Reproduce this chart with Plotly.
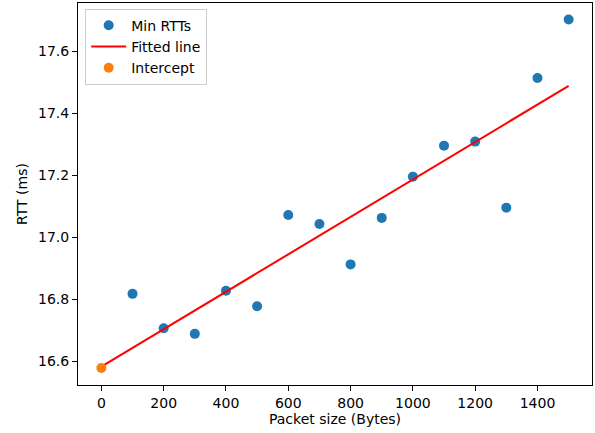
import plotly.graph_objects as go

packet_sizes = [100, 200, 300, 400, 500, 600, 700, 800, 900, 1000, 1100, 1200, 1300, 1400, 1500]
min_rtts = [16.818, 16.707, 16.689, 16.828, 16.778, 17.072, 17.043, 16.913, 17.063,
            17.196, 17.296, 17.309, 17.096, 17.514, 17.703]
fit_x = [0, 1500]
fit_y = [16.583, 17.489]
intercept_x = [0]
intercept_y = [16.579]

font = dict(family="DejaVu Sans", size=14, color="black")

fig = go.Figure()
fig.add_trace(go.Scatter(x=packet_sizes, y=min_rtts, mode="markers", name="Min RTTs",
                         marker=dict(color="#1f77b4", size=10)))
fig.add_trace(go.Scatter(x=fit_x, y=fit_y, mode="lines", name="Fitted line",
                         line=dict(color="red", width=2)))
fig.add_trace(go.Scatter(x=intercept_x, y=intercept_y, mode="markers", name="Intercept",
                         marker=dict(color="#ff7f0e", size=10)))

axis_common = dict(showline=True, mirror=True, linecolor="black", linewidth=1,
                   ticks="outside", ticklen=5, tickwidth=1, tickcolor="black",
                   showgrid=False, zeroline=False, tickfont=font)

fig.update_layout(
    width=595, height=433,
    margin=dict(l=78, r=3, t=3, b=48),
    paper_bgcolor="white", plot_bgcolor="white",
    font=font,
    xaxis=dict(range=[-75, 1575], tickvals=[0, 200, 400, 600, 800, 1000, 1200, 1400],
               title=dict(text="Packet size (Bytes)", font=font, standoff=3), **axis_common),
    yaxis=dict(range=[16.524, 17.756], tickvals=[16.6, 16.8, 17.0, 17.2, 17.4, 17.6],
               tickformat=".1f",
               title=dict(text="RTT (ms)", font=font, standoff=7), **axis_common),
    legend=dict(x=0.014, y=0.985, xanchor="left", yanchor="top",
                bordercolor="#cccccc", borderwidth=1, bgcolor="rgba(255,255,255,0.8)",
                font=font, tracegroupgap=0, itemwidth=35),
    showlegend=True,
)

fig.write_html("out.html")
